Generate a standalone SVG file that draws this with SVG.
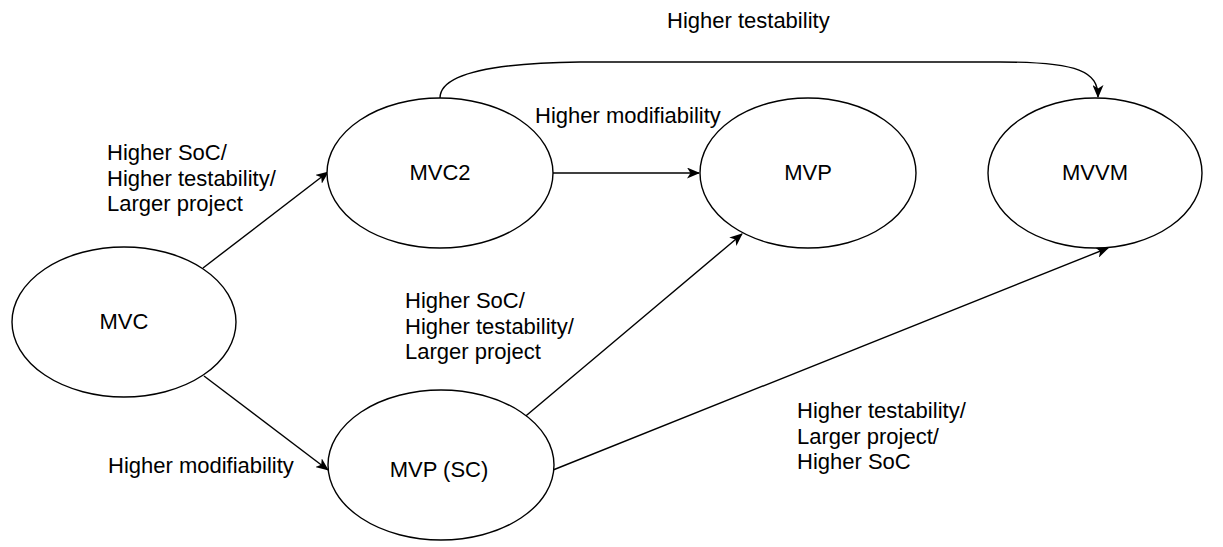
<svg xmlns="http://www.w3.org/2000/svg" width="1223" height="547" viewBox="0 0 1223 547">
  <style>
    .node ellipse { fill: #ffffff; stroke: #000000; stroke-width: 1.4; }
    .node text, .label { font-family: "Liberation Sans", Arial, sans-serif; font-size: 22px; fill: #000000; }
    .node text { text-anchor: middle; }
    .edge { fill: none; stroke: #000000; stroke-width: 1.4; marker-end: url(#arrow); }
  </style>
  <defs>
    <marker id="arrow" viewBox="0 0 13 11" refX="12" refY="5.5" markerWidth="13" markerHeight="11" markerUnits="userSpaceOnUse" orient="auto">
      <path d="M0,0 L13,5.5 L0,11 L3.5,5.5 Z" fill="#000000"/>
    </marker>
  </defs>

  <rect width="1223" height="547" fill="#ffffff"/>

  <!-- connectors -->
  <g id="connectors">
    <path class="edge" d="M203,268 L328,172"/>
    <path class="edge" d="M204,376 L328,470"/>
    <path class="edge" d="M553,173 L699,173"/>
    <path class="edge" d="M440,98 C440,74 490,63 580,62 L1000,62 C1080,62 1098,72 1098,97"/>
    <path class="edge" d="M521,420 L742,234"/>
    <path class="edge" d="M553,470 L1108,248"/>
  </g>

  <!-- edge labels -->
  <g id="edge-labels">
    <text class="label" x="667" y="28">Higher testability</text>
    <text class="label" x="535" y="123">Higher modifiability</text>
    <text class="label" x="107" y="160">Higher SoC/</text>
    <text class="label" x="107" y="185.5">Higher testability/</text>
    <text class="label" x="107" y="211">Larger project</text>
    <text class="label" x="405" y="308">Higher SoC/</text>
    <text class="label" x="405" y="333.5">Higher testability/</text>
    <text class="label" x="405" y="359">Larger project</text>
    <text class="label" x="108" y="473">Higher modifiability</text>
    <text class="label" x="797" y="418">Higher testability/</text>
    <text class="label" x="797" y="443.5">Larger project/</text>
    <text class="label" x="797" y="469">Higher SoC</text>
  </g>

  <!-- nodes -->
  <g id="node-mvc" class="node">
    <ellipse cx="124" cy="322" rx="112" ry="75"/>
    <text x="124" y="329">MVC</text>
  </g>
  <g id="node-mvc2" class="node">
    <ellipse cx="440" cy="173" rx="113" ry="75"/>
    <text x="440" y="180">MVC2</text>
  </g>
  <g id="node-mvp" class="node">
    <ellipse cx="808" cy="173" rx="108" ry="75"/>
    <text x="808" y="180">MVP</text>
  </g>
  <g id="node-mvvm" class="node">
    <ellipse cx="1095" cy="173" rx="107" ry="75"/>
    <text x="1095" y="180">MVVM</text>
  </g>
  <g id="node-mvp-sc" class="node">
    <ellipse cx="441" cy="465" rx="113" ry="75"/>
    <text x="439" y="477">MVP (SC)</text>
  </g>
</svg>
